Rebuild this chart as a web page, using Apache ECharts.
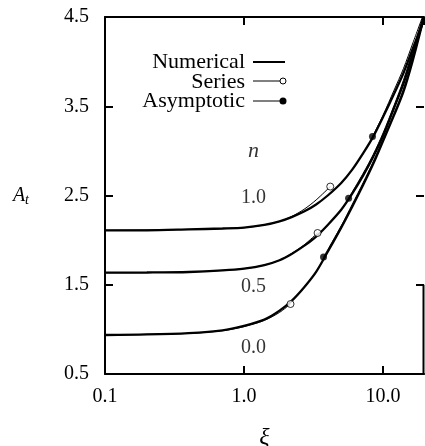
<!DOCTYPE html>
<html><head><meta charset="utf-8">
<script src="https://cdn.jsdelivr.net/npm/echarts@6/dist/echarts.min.js"></script>
<style>html,body{margin:0;padding:0;background:#fff}#c{width:425px;height:446px}</style>
</head><body><div id="c"></div>
<script>
// ---- axis ticks ----
const xTicks = [0.1, 1, 10];
const xTickLabels = ['0.1', '1.0', '10.0'];
const xMin = 0.1, xMax = 19.7;
const yMin = 0.5, yMax = 4.5, yStep = 1;

// ---- Numerical solutions (thick), read at these xi ----
const numXi    = [0.1, 0.2, 0.4, 0.7, 1.0, 1.4, 1.8, 2.2, 2.7, 3.3, 4.0, 5.0, 6.0, 7.2, 8.5, 10, 12, 14, 16.4, 19.7];
const numA_n10 = [2.11, 2.11, 2.12, 2.13, 2.14, 2.17, 2.21, 2.258, 2.32, 2.40, 2.50, 2.64, 2.79, 2.975, 3.16, 3.38, 3.64, 3.87, 4.15, 4.47];
const numA_n05 = [1.635, 1.637, 1.643, 1.66, 1.68, 1.72, 1.775, 1.845, 1.935, 2.04, 2.17, 2.34, 2.52, 2.725, 2.935, 3.17, 3.48, 3.75, 4.09, 4.49];
const numA_n00 = [0.937, 0.943, 0.959, 0.99, 1.04, 1.11, 1.21, 1.32, 1.47, 1.645, 1.87, 2.14, 2.375, 2.62, 2.855, 3.11, 3.40, 3.66, 4.02, 4.5];

// ---- Series solutions (thin, open circle at end) ----
const serXi_n10 = [0.1, 0.4, 1.0, 1.4, 1.8, 2.2, 2.7, 3.3, 4.17];
const serA_n10  = [2.11, 2.12, 2.14, 2.17, 2.21, 2.265, 2.345, 2.45, 2.60];
const serXi_n05 = [0.1, 0.4, 1.0, 1.4, 1.8, 2.2, 2.7, 3.38];
const serA_n05  = [1.635, 1.643, 1.68, 1.72, 1.775, 1.85, 1.945, 2.08];
const serXi_n00 = [0.1, 0.4, 0.7, 1.0, 1.4, 1.8, 2.16];
const serA_n00  = [0.937, 0.955, 0.985, 1.03, 1.10, 1.19, 1.284];

// ---- Asymptotic solutions (thin, filled dot at start) ----
const asyXi_n10 = [8.39, 10, 12, 14, 16.4, 19.2];
const asyA_n10  = [3.16, 3.40, 3.68, 3.92, 4.21, 4.5];
const asyXi_n05 = [5.65, 7.2, 8.5, 10, 12, 14, 16.4, 19.3];
const asyA_n05  = [2.47, 2.75, 2.96, 3.20, 3.51, 3.79, 4.13, 4.5];
const asyXi_n00 = [3.73, 5.0, 6.0, 7.2, 8.5, 10, 12, 14, 16.4, 19.4];
const asyA_n00  = [1.81, 2.16, 2.40, 2.645, 2.88, 3.13, 3.42, 3.69, 4.05, 4.5];

// ---- in-plot annotations ----
const annotTexts = ['n', '1.0', '0.5', '0.0'];
const annotXi = [1.17, 1.17, 1.17, 1.17];
const annotA = [3.0, 2.48, 1.48, 0.79];

const legendNames = ['Numerical', 'Series', 'Asymptotic'];

const FONT = '"Liberation Serif", "Times New Roman", serif';
const zip = (xs, ys) => xs.map((x, i) => [x, ys[i]]);
const xLabel = v => { for (let i = 0; i < xTicks.length; i++) if (Math.abs(v / xTicks[i] - 1) < 1e-6) return xTickLabels[i]; return ''; };

const thick = d => ({type: 'line', data: d, smooth: 0.3, symbol: 'none', clip: true,
  lineStyle: {color: '#000', width: 2.3}, z: 3, animation: false, silent: true});
const thin = d => ({type: 'line', data: d, smooth: 0.3, symbol: 'none', clip: true,
  lineStyle: {color: '#000', width: 1}, z: 4, animation: false, silent: true});

const serLines = [zip(serXi_n10, serA_n10), zip(serXi_n05, serA_n05), zip(serXi_n00, serA_n00)];
const asyLines = [zip(asyXi_n10, asyA_n10), zip(asyXi_n05, asyA_n05), zip(asyXi_n00, asyA_n00)];

const chart = echarts.init(document.getElementById('c'), null, {renderer: 'canvas'});
const axisLineStyle = {color: '#000', width: 2};
const tickStyle = {show: true, inside: true, length: 8, lineStyle: {color: '#000', width: 2}};

chart.setOption({
  animation: false,
  backgroundColor: '#fff',
  grid: {left: 105, right: 1, top: 17, bottom: 72, containLabel: false, outerBoundsMode: 'none'},
  xAxis: [
    {type: 'log', logBase: 10, min: xMin, max: xMax, position: 'bottom',
     axisLine: {show: true, lineStyle: axisLineStyle}, axisTick: tickStyle, splitLine: {show: false},
     minorTick: {show: false},
     axisLabel: {formatter: xLabel, color: '#000', fontFamily: FONT, fontSize: 20, margin: 13, showMaxLabel: false},
     name: 'ξ', nameLocation: 'middle', nameGap: 52,
     nameTextStyle: {fontFamily: FONT, fontStyle: 'italic', fontSize: 24, color: '#000'}},
    {type: 'log', logBase: 10, min: xMin, max: xMax, position: 'top',
     axisLine: {show: true, lineStyle: axisLineStyle}, axisTick: tickStyle, splitLine: {show: false},
     axisLabel: {show: false}}
  ],
  yAxis: [
    {type: 'value', min: yMin, max: yMax, interval: yStep, position: 'left',
     axisLine: {show: true, lineStyle: axisLineStyle}, axisTick: tickStyle, splitLine: {show: false},
     axisLabel: {formatter: v => v.toFixed(1), color: '#000', fontFamily: FONT, fontSize: 20, margin: 16},
     name: '{a|A}{s|t}', nameLocation: 'middle', nameGap: 76, nameRotate: 0,
     nameTextStyle: {color: '#000', rich: {
       a: {fontFamily: FONT, fontStyle: 'italic', fontSize: 20, color: '#000', verticalAlign: 'middle', lineHeight: 24},
       s: {fontFamily: FONT, fontStyle: 'italic', fontSize: 14, color: '#000', verticalAlign: 'bottom', lineHeight: 24}}}},
    {type: 'value', min: yMin, max: yMax, interval: yStep, position: 'right',
     axisLine: {show: false}, axisTick: tickStyle, splitLine: {show: false}, axisLabel: {show: false}}
  ],
  series: [
    thick(zip(numXi, numA_n10)),
    thick(zip(numXi, numA_n05)),
    thick(zip(numXi, numA_n00)),
    ...serLines.map(thin),
    ...asyLines.map(thin),
    {type: 'scatter', data: serLines.map(l => l[l.length - 1]), symbol: 'circle', symbolSize: 7,
     itemStyle: {color: '#fff', borderColor: '#000', borderWidth: 1}, z: 6, silent: true},
    {type: 'scatter', data: asyLines.map(l => l[0]), symbol: 'circle', symbolSize: 7,
     itemStyle: {color: '#000'}, z: 6, silent: true},
    {type: 'scatter', symbolSize: 0, silent: true, z: 7,
     data: annotTexts.map((t, i) => ({value: [annotXi[i], annotA[i]], name: t})),
     label: {show: true, position: 'inside', color: '#000', fontFamily: FONT, fontSize: 20,
       formatter: p => p.name === 'n' ? '{i|n}' : p.name,
       rich: {i: {fontFamily: FONT, fontStyle: 'italic', fontSize: 22, color: '#000'}}}}
  ]
});

// legend + partial right spine (positions from the chart's own scales)
const p1 = chart.convertToPixel({xAxisIndex: 0, yAxisIndex: 0}, [xMax, 1.5]);
const p2 = chart.convertToPixel({xAxisIndex: 0, yAxisIndex: 0}, [xMax, yMin]);
const lx = 245, ly = [62, 82, 101];
chart.setOption({
  graphic: [
    {type: 'line', shape: {x1: p1[0] - 0.5, y1: p1[1], x2: p2[0] - 0.5, y2: p2[1] + 1}, style: {stroke: '#000', lineWidth: 2}, z: 10},
    ...legendNames.map((t, i) => ({type: 'text', x: lx, y: ly[i], z: 10,
      style: {text: t, fill: '#000', font: '22px ' + FONT, textAlign: 'right', textVerticalAlign: 'middle'}})),
    {type: 'line', shape: {x1: 253, y1: 62, x2: 285, y2: 62}, style: {stroke: '#000', lineWidth: 2}, z: 10},
    {type: 'line', shape: {x1: 253, y1: 81, x2: 280, y2: 81}, style: {stroke: '#000', lineWidth: 1}, z: 10},
    {type: 'circle', shape: {cx: 283, cy: 81, r: 3}, style: {fill: '#fff', stroke: '#000', lineWidth: 1}, z: 11},
    {type: 'line', shape: {x1: 253, y1: 101, x2: 280, y2: 101}, style: {stroke: '#000', lineWidth: 1}, z: 10},
    {type: 'circle', shape: {cx: 283, cy: 101, r: 3.5}, style: {fill: '#000'}, z: 11}
  ]
});
</script>
</body></html>
